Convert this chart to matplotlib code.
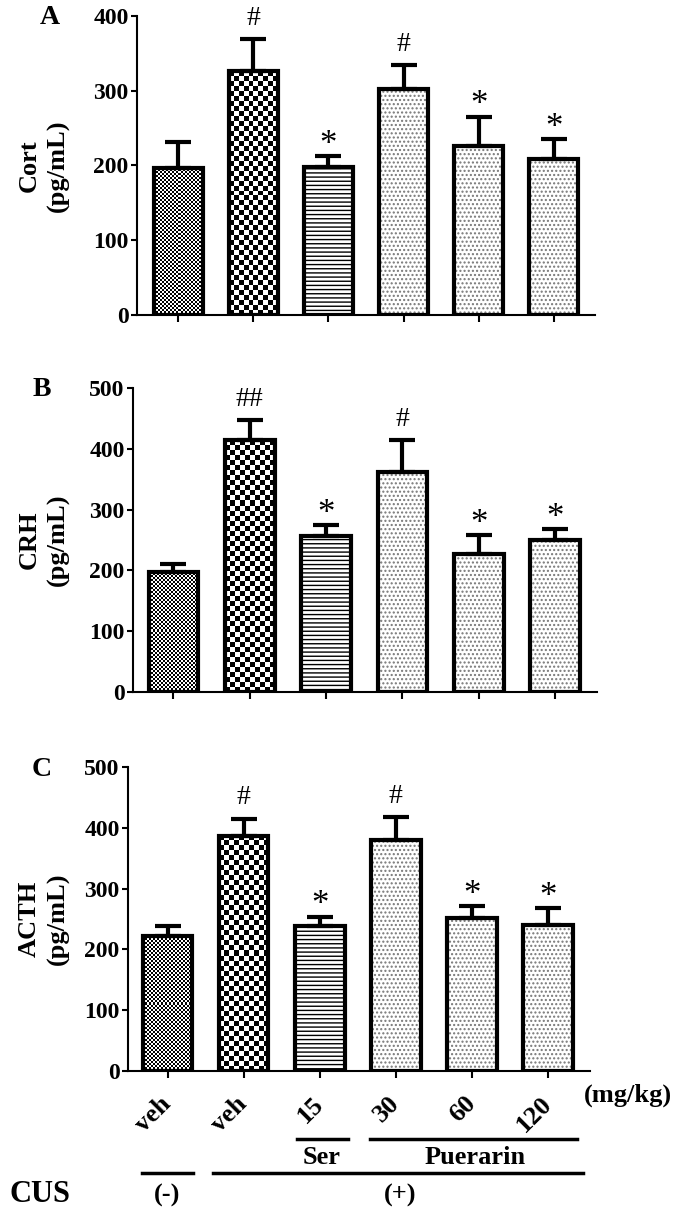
import numpy as np
import matplotlib
matplotlib.use("Agg")
import matplotlib.pyplot as plt
from matplotlib.lines import Line2D

plt.rcParams['font.family'] = ['Liberation Serif', 'DejaVu Serif']
plt.rcParams['font.weight'] = 'bold'
plt.rcParams['hatch.linewidth'] = 1.0

# data
groups = ["veh", "veh", "15", "30", "60", "120"]
cort_mean = [197, 326, 198, 302, 226, 208]
cort_sem = [34, 43, 14, 32, 39, 27]
crh_mean = [198, 414, 256, 362, 227, 250]
crh_sem = [12, 33, 18, 52, 31, 18]
acth_mean = [222, 387, 239, 380, 251, 240]
acth_sem = [17, 28, 15, 37, 20, 28]
cort_marks = ["", "#", "*", "#", "*", "*"]
crh_marks = ["", "##", "*", "#", "*", "*"]
acth_marks = ["", "#", "*", "#", "*", "*"]

W, H = 675, 1210
fig = plt.figure(figsize=(W / 100, H / 100), dpi=100)


def px_rect(left, right, top, bottom):
    return [left / W, 1 - bottom / H, (right - left) / W, (bottom - top) / H]


def checker_fill(ax, bar, cell):
    bb = bar.get_window_extent()
    nx = max(int(round(bb.width / cell)), 1)
    ny = max(int(round(bb.height / cell)), 1)
    img = (np.indices((ny, nx)).sum(axis=0) % 2).astype(float)
    x0 = bar.get_x()
    x1 = x0 + bar.get_width()
    h = bar.get_height()
    im = ax.imshow(img, cmap="gray", extent=(x0, x1, 0, h), origin="lower",
                   interpolation="nearest", aspect="auto", zorder=1)
    im.set_clip_path(bar)


def panel(rect, means, sems, marks, ymax, letter, ylab, xlim):
    ax = fig.add_axes(rect)
    ax.set_xlim(*xlim)
    ax.set_ylim(0, ymax)
    x = np.arange(len(means))
    width = 0.65
    # texture layer
    base = ax.bar(x, means, width=width, color="white", linewidth=0, zorder=1)
    checker_fill(ax, base[0], 2)
    checker_fill(ax, base[1], 5)
    ax.bar(x[2], means[2], width=width, color="white", edgecolor="black",
           linewidth=0, hatch="----", zorder=2)
    ax.bar(x[3:], means[3:], width=width, color="white", edgecolor="#777777",
           linewidth=0, hatch="....", zorder=2)
    # outlines
    ax.bar(x, means, width=width, color="none", edgecolor="black",
           linewidth=3, zorder=3, joinstyle="miter")
    ax.errorbar(x, means, yerr=[np.zeros(len(sems)), sems], fmt="none",
                ecolor="black", elinewidth=3, capsize=9.5, capthick=3, zorder=2)
    ax.set_xlim(*xlim)
    ax.set_ylim(0, ymax)
    for xi, m, s, mk in zip(x, means, sems, marks):
        if not mk:
            continue
        if mk == "*":
            ax.annotate(mk, (xi, m + s), xytext=(0, -4), textcoords="offset points",
                        ha="center", va="bottom", fontsize=25, fontweight="normal")
        else:
            ax.annotate(mk, (xi, m + s), xytext=(0, 6), textcoords="offset points",
                        ha="center", va="bottom", fontsize=20, fontweight="normal")
    ax.spines["top"].set_visible(False)
    ax.spines["right"].set_visible(False)
    ax.spines["left"].set_linewidth(1.5)
    ax.spines["bottom"].set_linewidth(1.5)
    ax.set_yticks(np.arange(0, ymax + 1, 100))
    ax.tick_params(axis="y", length=4, width=1.5, labelsize=17, pad=2)
    ax.tick_params(axis="x", length=5, width=1.5, labelsize=17)
    ax.set_xticks(x)
    ax.set_xticklabels([])
    # panel letter and y label
    top_px = (1 - (rect[1] + rect[3])) * H
    mid_px = (1 - (rect[1] + rect[3] / 2)) * H
    fig.text(50 / W if letter == "A" else 42 / W, 1 - (top_px + 2) / H, letter,
             fontsize=20, ha="center", va="center")
    fig.text(44 / W, 1 - mid_px / H, ylab, rotation=90, fontsize=19,
             ha="center", va="center", linespacing=1.3, multialignment="center")
    return ax


axA = panel(px_rect(137, 595, 15.7, 315), cort_mean, cort_sem, cort_marks,
            400, "A", "Cort\n(pg/mL)", (-0.55, 5.55))
axB = panel(px_rect(133, 597, 388, 692), crh_mean, crh_sem, crh_marks,
            500, "B", "CRH\n(pg/mL)", (-0.53, 5.55))
axC = panel(px_rect(128, 590, 767, 1071), acth_mean, acth_sem, acth_marks,
            500, "C", "ACTH\n(pg/mL)", (-0.52, 5.55))

axC.set_xticklabels(groups, rotation=45, ha="right", va="center",
                    rotation_mode="anchor", fontsize=19)
axC.tick_params(axis="x", pad=16)


def ftext(xp, yp, s, size=16, **kw):
    fig.text(xp / W, 1 - yp / H, s, fontsize=size, ha="center", va="center", **kw)


def fline(x0, x1, yp, lw=2.5):
    fig.add_artist(Line2D([x0 / W, x1 / W], [1 - yp / H, 1 - yp / H],
                          color="black", linewidth=lw))


ftext(628, 1095, "(mg/kg)", 19)
fline(297, 348, 1139)
fline(370, 577, 1139)
ftext(322, 1157, "Ser", 19)
ftext(475, 1157, "Puerarin", 19)
fline(142, 193, 1173)
fline(213, 583, 1173)
ftext(40, 1195, "CUS", 22)
ftext(167, 1195, "(-)", 19)
ftext(400, 1195, "(+)", 19)

fig.savefig("out.png", dpi=100)
